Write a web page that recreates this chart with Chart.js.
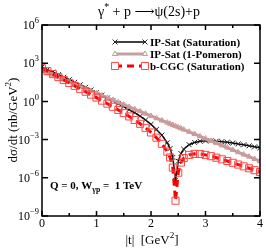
<!DOCTYPE html>
<html>
<head>
<meta charset="utf-8">
<script src="https://cdn.jsdelivr.net/npm/chart.js@4.4.0/dist/chart.umd.min.js"></script>
<style>
  body { margin: 0; background: #fff; }
  #wrap { width: 266px; height: 248px; position: relative; }
</style>
</head>
<body>
<div id="wrap"><canvas id="myChart"></canvas></div>
<script>
// |t| in GeV^2
var tValues = [0, 0.1, 0.2, 0.3, 0.4, 0.5, 0.6, 0.7, 0.8, 0.9, 1.0, 1.1, 1.2, 1.3, 1.4, 1.5, 1.6, 1.7, 1.8, 1.9,
               2.0, 2.1, 2.2, 2.3, 2.35, 2.4, 2.45, 2.5, 2.55, 2.6, 2.7, 2.8, 2.9, 3.0, 3.1, 3.2, 3.3, 3.4, 3.5,
               3.6, 3.7, 3.8, 3.9, 4.0];
// log10 of dsigma/dt in nb/GeV^2
var ipSatSat = [2.70, 2.50, 2.30, 2.10, 1.90, 1.70, 1.50, 1.30, 1.10, 0.90, 0.69, 0.48, 0.27, 0.05, -0.17, -0.40,
                -0.64, -0.89, -1.16, -1.46, -1.80, -2.20, -2.65, -3.25, -3.70, -4.40, -6.20, -4.70, -4.10, -3.75,
                -3.40, -3.22, -3.13, -3.10, -3.10, -3.12, -3.16, -3.21, -3.27, -3.34, -3.41, -3.49, -3.57, -3.65];
var ipSatPom = [2.42, 2.24, 2.06, 1.89, 1.71, 1.53, 1.35, 1.17, 0.99, 0.82, 0.64, 0.46, 0.28, 0.11, -0.07, -0.25,
                -0.43, -0.61, -0.78, -0.96, -1.14, -1.32, -1.50, -1.67, -1.76, -1.85, -1.94, -2.03, -2.12, -2.21,
                -2.39, -2.56, -2.74, -2.92, -3.10, -3.28, -3.45, -3.63, -3.81, -3.99, -4.17, -4.34, -4.52, -4.70];
var bCgcSat = [2.60, 2.37, 2.14, 1.91, 1.68, 1.45, 1.22, 0.99, 0.76, 0.53, 0.30, 0.06, -0.18, -0.42, -0.67, -0.92,
               -1.18, -1.46, -1.76, -2.08, -2.44, -2.85, -3.33, -3.95, -4.40, -5.20, -7.80, -5.60, -4.80, -4.45,
               -4.20, -4.12, -4.13, -4.20, -4.30, -4.42, -4.55, -4.68, -4.82, -4.96, -5.10, -5.25, -5.40, -5.55];
var seriesNames = ["IP-Sat (Saturation)", "IP-Sat (1-Pomeron)", "b-CGC (Saturation)"];
var xTicks = [0, 1, 2, 3, 4];
var yTicks = [-9, -6, -3, 0, 3, 6];

var SERIF = '"Liberation Serif", "DejaVu Serif", serif';

function pts(arr) {
  return tValues.map(function (t, i) { return { x: t, y: arr[i] }; });
}

// text with a raised (sup) or lowered (sub) part, returns width
function richText(ctx, parts, x, y, size, bold, draw) {
  var w = 0;
  parts.forEach(function (p) {
    var s = p.small ? size * 0.7 : size;
    ctx.font = (bold ? 'bold ' : '') + s + 'px ' + SERIF;
    if (draw) ctx.fillText(p.t, x + w, y + (p.dy || 0));
    w += ctx.measureText(p.t).width;
  });
  return w;
}

var decor = {
  id: 'decor',
  afterDraw: function (chart) {
    var ctx = chart.ctx, a = chart.chartArea;
    var xs = chart.scales.x, ys = chart.scales.y;
    ctx.save();
    ctx.strokeStyle = '#000';
    ctx.fillStyle = '#000';

    // frame
    ctx.lineWidth = 1.5;
    ctx.strokeRect(a.left, a.top, a.right - a.left, a.bottom - a.top);

    // ticks, pointing inward on all four sides
    ctx.lineWidth = 1.5;
    ctx.beginPath();
    for (var v = 0; v <= 4.001; v += 0.5) {
      var px = xs.getPixelForValue(v);
      var len = (Math.abs(v - Math.round(v)) < 0.01) ? 5 : 3;
      ctx.moveTo(px, a.bottom); ctx.lineTo(px, a.bottom - len);
      ctx.moveTo(px, a.top); ctx.lineTo(px, a.top + len);
    }
    yTicks.forEach(function (v) {
      var py = ys.getPixelForValue(v);
      ctx.moveTo(a.left, py); ctx.lineTo(a.left + 6, py);
      ctx.moveTo(a.right, py); ctx.lineTo(a.right - 6, py);
    });
    ctx.stroke();

    // x tick labels
    ctx.font = '12px ' + SERIF;
    ctx.textAlign = 'center';
    ctx.textBaseline = 'top';
    xTicks.forEach(function (v) {
      ctx.fillText(String(v), xs.getPixelForValue(v), a.bottom + 2);
    });

    // y tick labels 10^n
    ctx.textAlign = 'left';
    ctx.textBaseline = 'middle';
    yTicks.forEach(function (v) {
      var py = ys.getPixelForValue(v);
      var parts = [{ t: '10' }, { t: String(v).replace('-', '\u2212'), small: true, dy: -5 }];
      var w = richText(ctx, parts, 0, 0, 12, false, false);
      richText(ctx, parts, a.left - 3 - w, py + 1, 12, false, true);
    });

    // title
    ctx.textBaseline = 'middle';
    var title = [{ t: '\u03b3' }, { t: '*', small: true, dy: -5 }, { t: ' + p ' }, { t: '\u27f6' }, { t: '\u03c8(2s)+p' }];
    var tw = richText(ctx, title, 0, 0, 14, false, false);
    richText(ctx, title, 149 - tw / 2, 12, 14, false, true);

    // x axis title
    var xt = [{ t: '|t|  [GeV' }, { t: '2', small: true, dy: -5 }, { t: ']' }];
    var xw = richText(ctx, xt, 0, 0, 13, false, false);
    richText(ctx, xt, 152 - xw / 2, 241, 13, false, true);

    // y axis title, rotated
    ctx.save();
    ctx.translate(14, 120);
    ctx.rotate(-Math.PI / 2);
    var yt = [{ t: 'd\u03c3/dt (nb/GeV' }, { t: '2', small: true, dy: -5 }, { t: ')' }];
    var yw = richText(ctx, yt, 0, 0, 13, false, false);
    richText(ctx, yt, -yw / 2, 0, 13, false, true);
    ctx.restore();

    // annotation
    var ann = [{ t: 'Q = 0, W' }, { t: '\u03b3p', small: true, dy: 4 }, { t: ' =  1 TeV' }];
    richText(ctx, ann, 50, 186, 11, true, true);

    // legend: line with a marker at each end, then the name
    var rows = [42, 54, 66];
    var x1 = 115, x2 = 145;
    chart.data.datasets.forEach(function (ds, i) {
      var y = rows[i];
      ctx.save();
      ctx.strokeStyle = ds.borderColor;
      ctx.lineWidth = ds.borderWidth;
      ctx.setLineDash(ds.borderDash || []);
      ctx.beginPath(); ctx.moveTo(x1, y); ctx.lineTo(x2, y); ctx.stroke();
      ctx.setLineDash([]);
      var opts = { pointStyle: ds.pointStyle, radius: ds.pointRadius, rotation: 0, borderWidth: ds.pointBorderWidth };
      ctx.strokeStyle = ds.pointBorderColor;
      ctx.fillStyle = '#fff';
      ctx.lineWidth = ds.pointBorderWidth;
      Chart.helpers.drawPoint(ctx, opts, x1, y);
      Chart.helpers.drawPoint(ctx, opts, x2, y);
      ctx.restore();
      ctx.fillStyle = '#000';
      ctx.textBaseline = 'middle';
      richText(ctx, [{ t: seriesNames[i] }], 150, y + 1, 11, true, true);
    });
    ctx.restore();
  }
};

new Chart("myChart", {
  type: "line",
  data: {
    datasets: [{
      label: seriesNames[0],
      data: pts(ipSatSat),
      borderColor: "#000",
      borderWidth: 1.5,
      pointStyle: "crossRot",
      pointRadius: 3.5,
      pointBorderWidth: 1,
      pointBorderColor: "#222",
      pointBackgroundColor: "rgba(0,0,0,0)",
      order: 3
    }, {
      label: seriesNames[1],
      data: pts(ipSatPom),
      borderColor: "rgb(196,160,160)",
      borderWidth: 3,
      pointStyle: "triangle",
      pointRadius: 3,
      pointBorderWidth: 1,
      pointBorderColor: "rgb(205,150,150)",
      pointBackgroundColor: "rgba(0,0,0,0)",
      order: 2
    }, {
      label: seriesNames[2],
      data: pts(bCgcSat),
      borderColor: "#ff0000",
      borderWidth: 3,
      borderDash: [7, 5],
      pointStyle: "rect",
      pointRadius: 5,
      pointBorderWidth: 1,
      pointBorderColor: "rgb(255,70,70)",
      pointBackgroundColor: "rgba(0,0,0,0)",
      order: 1
    }]
  },
  options: {
    responsive: true,
    maintainAspectRatio: false,
    animation: false,
    layout: { padding: { left: 42, right: 4, top: 25, bottom: 32 } },
    plugins: { legend: { display: false }, tooltip: { enabled: false } },
    scales: {
      x: { type: "linear", min: 0, max: 4, display: false },
      y: { type: "linear", min: -9, max: 6, display: false }
    }
  },
  plugins: [decor]
});
</script>
</body>
</html>
